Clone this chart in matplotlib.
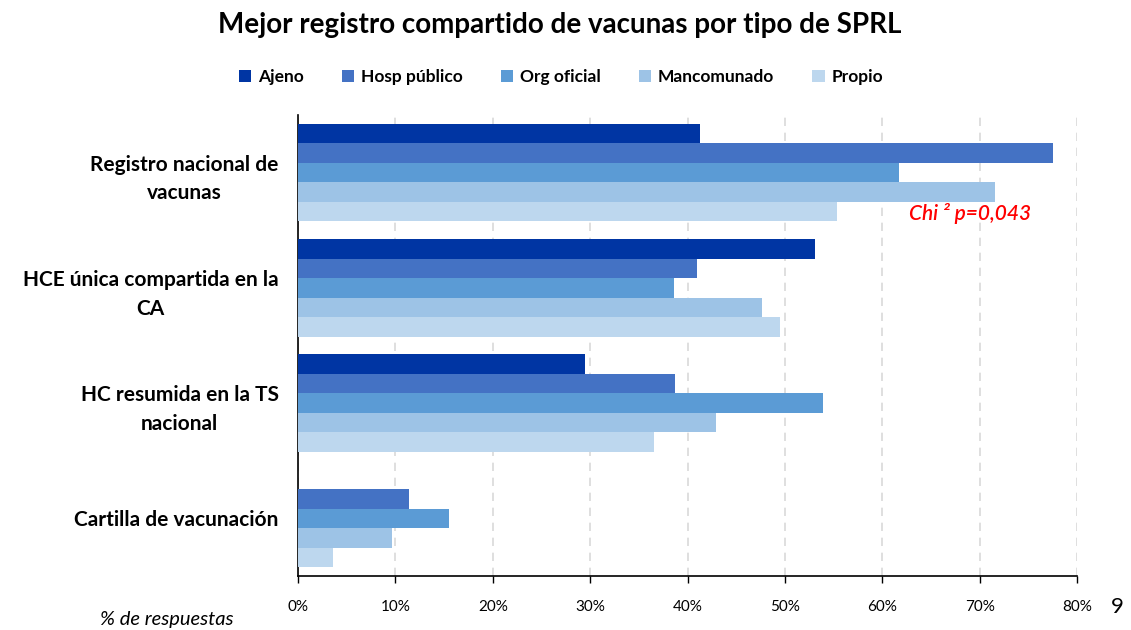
import matplotlib
matplotlib.use("Agg")
import matplotlib.pyplot as plt
import numpy as np

categories = ["Registro nacional de\nvacunas", "HCE única compartida en la\nCA",
              "HC resumida en la TS\nnacional", "Cartilla de vacunación"]
series = ["Ajeno", "Hosp público", "Org oficial", "Mancomunado", "Propio"]
ajeno = [41.3, 53.1, 29.5, 0.0]
hosp_publico = [77.5, 41.0, 38.7, 11.4]
org_oficial = [61.7, 38.6, 53.9, 15.5]
mancomunado = [71.6, 47.7, 42.9, 9.7]
propio = [55.4, 49.5, 36.6, 3.6]
xticks = [0, 10, 20, 30, 40, 50, 60, 70, 80]
xticklabels = ["0%", "10%", "20%", "30%", "40%", "50%", "60%", "70%", "80%"]

values = [ajeno, hosp_publico, org_oficial, mancomunado, propio]
colors = ["#0035A3", "#4472C4", "#5B9BD5", "#9DC3E6", "#BDD7EE"]

plt.rcParams['font.family'] = ['Lato', 'DejaVu Sans']

fig = plt.figure(figsize=(11.31, 6.3), dpi=100)
ax = fig.add_axes([298/1131, 1-576/630, (1077-298)/1131, (576-115)/630])

h = 0.169
y = np.arange(len(categories))
for k, (name, vals, c) in enumerate(zip(series, values, colors)):
    off = (k - 2) * h
    ax.barh(y + off, vals, height=h, color=c, label=name, edgecolor='none', zorder=3)

ax.set_ylim(3.5, -0.5)
ax.set_xlim(0, 80)
ax.set_xticks(xticks)
ax.set_xticklabels(xticklabels, fontsize=11)
ax.set_yticks(y)
ax.set_yticklabels(categories, fontsize=15, fontweight='bold', multialignment='center',
                   linespacing=1.55)
ax.tick_params(axis='y', length=0, pad=14)
ax.tick_params(axis='x', length=5, width=1, color='black', pad=12)
ax.grid(axis='x', linestyle=(0, (5, 4)), color='#D9D9D9', linewidth=1.2, zorder=0)
for s in ['top', 'right']:
    ax.spines[s].set_visible(False)
ax.spines['left'].set_color('black')
ax.spines['bottom'].set_color('black')
ax.spines['left'].set_linewidth(1.2)
ax.spines['bottom'].set_linewidth(1.2)

fig.text(560/1131, 1-25/630, "Mejor registro compartido de vacunas por tipo de SPRL",
         ha='center', va='center', fontsize=20, fontweight='bold')

leg = fig.legend(loc='center', bbox_to_anchor=(561/1131, 1-77/630), ncol=5, frameon=False,
                 prop={'size': 12.5, 'weight': 'bold'}, handlelength=0.7, handleheight=0.7,
                 columnspacing=2.2, handletextpad=0.4)

fig.text(970/1131, 1-214/630, "Chi ² p=0,043", color='red',
         fontsize=15, fontstyle='italic', fontweight='semibold', ha='center', va='center')
fig.text(167/1131, 1-620/630, "% de respuestas", fontsize=14.5, fontstyle='italic',
         ha='center', va='center')
fig.text(1111/1131, 1-607/630, "9", fontsize=16, ha='left', va='center')

fig.savefig("out.png", dpi=100)
